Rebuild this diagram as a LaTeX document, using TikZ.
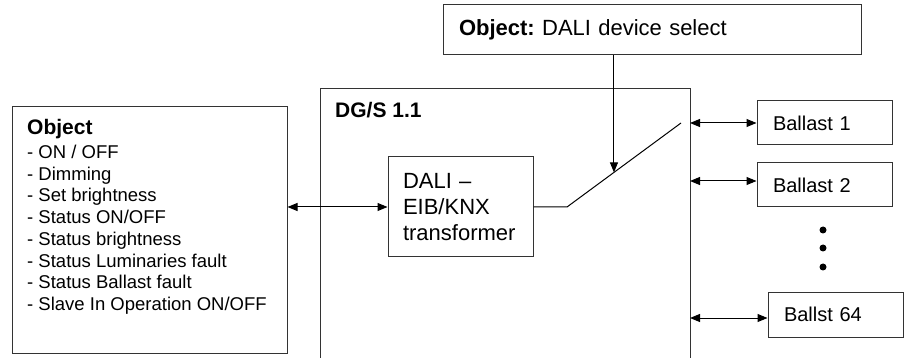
\documentclass[tikz,border=0pt]{standalone}
\usepackage{fontspec}
\setmainfont{Liberation Sans}
\usetikzlibrary{arrows.meta,calc}
\newcommand{\setfs}[2]{\fontsize{#1}{#2}\selectfont}
\tikzset{
  box/.style={draw=black!80, line width=1pt, inner ysep=0pt, inner xsep=16pt, align=left},
  link/.style={line width=1pt, >={Triangle[length=10pt,width=8pt]}},
}
\begin{document}
\begin{tikzpicture}[x=1pt,y=-1pt]
\useasboundingbox (0,0) rectangle (908,358);
% object list on the left
\node (objbox) [box, minimum width=275pt, minimum height=246pt] at (149.5,230) {};
\node (objlist) [anchor=base west, inner sep=0pt] at (27,134.5) {\setfs{18.5}{21.7}%
\begin{tabular}[t]{@{}l@{}}
  {\setfs{21}{25}\bfseries Object}\\[2.4pt]
  - ON / OFF\\
  - Dimming\\
  - Set brightness\\
  - Status ON/OFF\\
  - Status brightness\\
  - Status Luminaries fault\\
  - Status Ballast fault\\
  - Slave In Operation ON/OFF\\
\end{tabular}};
% gateway
\draw [draw=black!80, line width=1pt] (320,358) |- (690,89) -- (690,358);
\coordinate (dgsR) at (690,89);
\node (dgs) [anchor=base west, inner sep=0pt, font=\setfs{21}{25}\bfseries] at (335,117.5) {DG/S 1.1};
\node (conv) [box, text width=115pt, inner xsep=15pt, minimum height=100pt, font=\setfs{22}{26}] at (460.5,207) {DALI --\\EIB/KNX\\transformer};
\draw [link,<->] (objbox.east |- conv.west) -- (conv.west);
% switch
\coordinate (sw1) at (567,207);
\coordinate (sw2) at (681,123);
\draw [link] (conv.east) -- (sw1) -- (sw2);
\coordinate (pick) at ($(sw1)!0.412!(sw2)$);
\node (sel) [box, text width=386pt, minimum height=50pt, font=\setfs{22}{26}] at (652,30) {\textbf{Object:}\ DALI device select};
\draw [link,->] (sel.south -| pick) -- (pick);
% ballasts
\node (b1) [box, text width=103pt, minimum height=44pt, font=\setfs{20}{24}] at (824.5,123) {Ballast 1};
\node (b2) [box, text width=103pt, minimum height=44pt, font=\setfs{20}{24}] at (824.5,185) {Ballast 2};
\node (b64) [box, text width=103pt, minimum height=45pt, font=\setfs{20}{24}] at (835.5,314.5) {Ballst 64};
\draw [link,<->] (b1.west -| dgsR) -- (b1.west);
\draw [link,<->] ([yshift=4pt]b2.west -| dgsR) -- ([yshift=4pt]b2.west);
\draw [link,<->] ([yshift=-3.5pt]b64.west -| dgsR) -- ([yshift=-3.5pt]b64.west);
\foreach \y in {230,248,267}
  \fill (823,\y) circle (3.5pt);
\end{tikzpicture}
\end{document}
